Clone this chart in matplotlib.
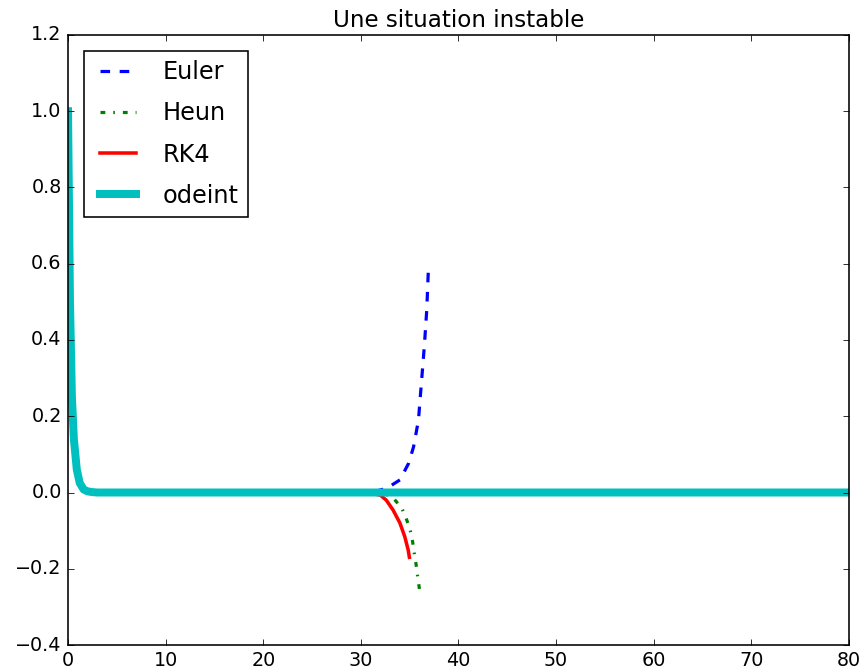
import matplotlib
matplotlib.use("Agg")
import matplotlib.pyplot as plt

plt.style.use('classic')

# odeint (decay then flat over whole range)
t_ode = [0, 0.2, 0.4, 0.6, 0.9, 1.2, 1.6, 2.0, 2.5, 3.0, 80.0]
y_ode = [1.0, 0.5, 0.25, 0.14, 0.06, 0.025, 0.008, 0.003, 0.001, 0.0, 0.0]

# Euler
t_eul = [0, 0.2, 0.4, 0.6, 0.9, 1.2, 1.6, 2.0, 3.0, 31.0, 32.65, 34.0, 34.9, 35.4, 35.9, 36.2, 36.5, 36.75, 36.92]
y_eul = [1.0, 0.5, 0.25, 0.14, 0.06, 0.025, 0.008, 0.003, 0.0, 0.0, 0.011, 0.033, 0.077, 0.12, 0.19, 0.287, 0.383, 0.479, 0.588]

# Heun
t_heun = [0, 0.2, 0.4, 0.6, 0.9, 1.2, 1.6, 2.0, 3.0, 31.5, 32.5, 33.3, 34.2, 34.7, 35.05, 35.3, 35.5, 35.7, 35.85, 36.0]
y_heun = [1.0, 0.5, 0.25, 0.14, 0.06, 0.025, 0.008, 0.003, 0.0, 0.0, -0.004, -0.014, -0.041, -0.072, -0.098, -0.129, -0.164, -0.196, -0.227, -0.253]

# RK4
t_rk4 = [0, 0.2, 0.4, 0.6, 0.9, 1.2, 1.6, 2.0, 3.0, 30.0, 31.0, 32.0, 32.6, 33.3, 34.0, 34.5, 34.85, 34.97]
y_rk4 = [1.0, 0.5, 0.25, 0.14, 0.06, 0.025, 0.008, 0.003, 0.0, 0.0, -0.002, -0.007, -0.02, -0.046, -0.08, -0.116, -0.151, -0.17]

dpi = 115
fig = plt.figure(figsize=(861 / dpi, 670 / dpi), dpi=dpi, facecolor='white')
ax = fig.add_axes([0.079, 0.0373, 0.907, 0.9105])

ax.plot(t_eul, y_eul, 'b--', lw=2, label='Euler')
ax.plot(t_heun, y_heun, 'g-.', lw=2, label='Heun')
ax.plot(t_rk4, y_rk4, 'r-', lw=2.2, label='RK4')
ax.plot(t_ode, y_ode, 'c-', lw=5, label='odeint')

ax.set_xlim(0, 80)
ax.set_ylim(-0.4, 1.2)
ax.set_title('Une situation instable', fontsize=14.4)
ax.legend(loc='upper left', fontsize=15, labelspacing=0.72, borderaxespad=0.65,
          handlelength=2.1)

fig.savefig('out.png', dpi=dpi, facecolor='white')
